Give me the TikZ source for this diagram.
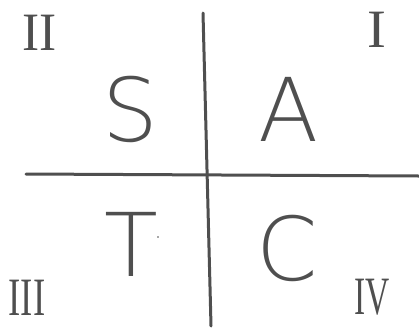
\documentclass[tikz,border=0pt]{standalone}
\usepackage{fontspec}
\setmainfont{Liberation Serif}
\newfontfamily\handfont{DejaVu Sans}[UprightFont={* ExtraLight}]
\definecolor{ink}{HTML}{4F4F4F}
\begin{document}
\begin{tikzpicture}[x=1pt,y=-1pt,
  axis/.style={draw=ink,line width=3pt,line cap=round},
  big/.style={text=ink,font=\fontsize{88}{88}\selectfont\handfont, inner sep=0pt},
  numeral/.style={text=ink,font=\fontsize{54}{54}\selectfont, inner sep=0pt}]
\useasboundingbox (0,0) rectangle (419,327);
\coordinate (vtop) at (203,13);
\coordinate (vbot) at (211,326);
\coordinate (hleft) at (26,174);
\coordinate (hright) at (419,176);
\draw[axis] (vtop) -- (vbot);
\draw[axis] (hleft) -- (hright);
\node[big] (S) at (130,109) {S};
\node[big] (A) at (289,109) {A};
\node[big] (T) at (131,244) {T};
\node[big] (C) at (287,248) {C};
\fill[ink] (158,237) circle (0.8);
\node[numeral,xscale=0.95] (n2) at (40,33) {II};
\node[numeral,xscale=1.05] (n1) at (377,30) {I};
\node[numeral,xscale=0.68] (n3) at (27,298) {III};
\node[numeral,xscale=0.62] (n4) at (372,297) {IV};
\end{tikzpicture}
\end{document}
